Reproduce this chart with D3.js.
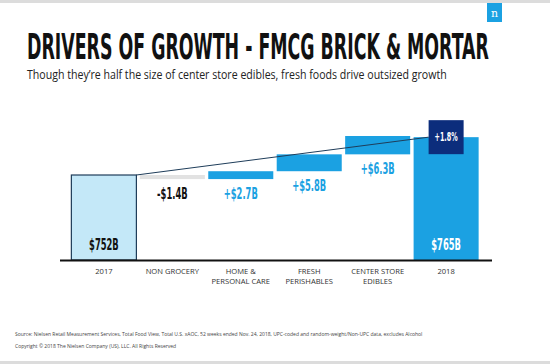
<!DOCTYPE html>
<html>
<head>
<meta charset="utf-8">
<script src="https://cdn.jsdelivr.net/npm/d3@7"></script>
<style>
  body { margin: 0; background: #fff; }
  svg { display: block; }
  .cond { font-family: "DejaVu Sans Condensed", "Liberation Sans", sans-serif; font-weight: bold; }
  .body { font-family: "Open Sans", "Noto Sans", sans-serif; }
</style>
</head>
<body>
<div id="chart"></div>
<script>
// Data
var categories = ["2017", "NON GROCERY", "HOME &|PERSONAL CARE", "FRESH|PERISHABLES", "CENTER STORE|EDIBLES", "2018"];
var startValue = 752;
var deltas = [-1.4, 2.7, 5.8, 6.3];
var endValue = 765;
var valueLabels = ["$752B", "-$1.4B", "+$2.7B", "+$5.8B", "+$6.3B", "$765B"];
var growthLabel = "+1.8%";

var width = 550, height = 364;
var SQUEEZE = 0.62; // narrow the bold labels horizontally

var svg = d3.select("#chart")
    .append("svg")
        .attr("width", width)
        .attr("height", height);

/* Squeeze a text horizontally so it spans a given width */
function fitWidth(sel, x0, y0, w){
    var natural = sel.node().getComputedTextLength();
    sel.attr("transform", "translate(" + x0 + "," + y0 + ") scale(" + (w / natural) + ",1)");
}

/* Frame strips */
svg.append("rect").attr("x", 0).attr("y", 0).attr("width", width).attr("height", 3).attr("fill", "#dcdcdc");
svg.append("rect").attr("x", 0).attr("y", 361).attr("width", width).attr("height", 3).attr("fill", "#dcdcdc");

/* Logo */
svg.append("rect").attr("x", 487).attr("y", 3).attr("width", 15).attr("height", 19).attr("fill", "#1ba1e2");
svg.append("text").attr("x", 494.5).attr("y", 17).attr("text-anchor", "middle")
    .attr("fill", "#fff").attr("font-family", "DejaVu Serif, serif").attr("font-size", 11).text("n");

/* Titles */
var title = svg.append("text").attr("class", "cond")
    .attr("font-size", 36)
    .attr("fill", "#111")
    .text("DRIVERS OF GROWTH - FMCG BRICK & MORTAR");
fitWidth(title, 27, 58.5, 462);

var subtitle = svg.append("text").attr("class", "body")
    .attr("font-size", 11.8)
    .attr("fill", "#222")
    .text("Though they\u2019re half the size of center store edibles, fresh foods drive outsized growth");
fitWidth(subtitle, 27, 78.5, 420);

/* Waterfall steps */
var steps = [];
var running = startValue;
steps.push({ cat: categories[0], lo: 722.8, hi: startValue, kind: "start" });
deltas.forEach(function(d, i){
    var next = running + d;
    steps.push({ cat: categories[i + 1], lo: Math.min(running, next), hi: Math.max(running, next), kind: d < 0 ? "neg" : "pos" });
    running = next;
});
steps.push({ cat: categories[5], lo: 722.8, hi: endValue, kind: "end" });

/* Scales */
var x = d3.scaleBand()
    .domain(categories)
    .range([70, 480])
    .paddingInner(0.05)
    .paddingOuter(0.02);
var y = d3.scaleLinear()
    .domain([722.8, running])
    .range([260, 136]);

var fills = { start: "#c4e8f8", neg: "#e2e2e2", pos: "#1ba1e2", end: "#1ba1e2" };

/* Bars */
svg.selectAll(".bar")
    .data(steps)
    .enter()
    .append("rect")
        .attr("class", "bar")
        .attr("x", function(d){ return x(d.cat); })
        .attr("y", function(d){ return y(d.hi); })
        .attr("width", x.bandwidth())
        .attr("height", function(d){ return y(d.lo) - y(d.hi); })
        .attr("fill", function(d){ return fills[d.kind]; })
        .attr("stroke", function(d){ return d.kind === "start" ? "#1f3d5a" : "none"; })
        .attr("stroke-width", 1.2);

/* Growth box */
var xEnd = x(categories[5]) + x.bandwidth() / 2;
svg.append("rect")
    .attr("x", xEnd - 17.5).attr("y", y(endValue) - 17)
    .attr("width", 35).attr("height", 34)
    .attr("fill", "#0c2d7c");

/* Connector line */
svg.append("line")
    .attr("x1", x(categories[0]) + x.bandwidth()).attr("y1", y(startValue))
    .attr("x2", xEnd - 17.5).attr("y2", y(endValue))
    .attr("stroke", "#1f3d5a").attr("stroke-width", 1);

svg.append("text").attr("class", "cond")
    .attr("transform", "translate(" + xEnd + "," + (y(endValue) + 4) + ") scale(" + SQUEEZE + ",1)")
    .attr("text-anchor", "middle").attr("font-size", 11.5)
    .attr("fill", "#fff")
    .text(growthLabel);

/* Value labels */
svg.selectAll(".val")
    .data(steps)
    .enter()
    .append("text")
        .attr("class", "val cond")
        .attr("transform", function(d){
            var cx = x(d.cat) + x.bandwidth() / 2;
            var cy = (d.kind === "start" || d.kind === "end") ? 250 : y(d.lo) + 20;
            return "translate(" + cx + "," + cy + ") scale(" + SQUEEZE + ",1)";
        })
        .attr("text-anchor", "middle")
        .attr("font-size", 15)
        .attr("fill", function(d){ return d.kind === "pos" ? "#1ba1e2" : d.kind === "end" ? "#fff" : "#111"; })
        .text(function(d, i){ return valueLabels[i]; });

/* Axis */
svg.append("line")
    .attr("x1", 60).attr("x2", 492)
    .attr("y1", 260.5).attr("y2", 260.5)
    .attr("stroke", "#111").attr("stroke-width", 1.8);

var xAxis = d3.axisBottom(x).tickSize(0).tickPadding(0).tickFormat("");
var axisG = svg.append("g")
    .attr("transform", "translate(0,261)")
    .call(xAxis);
axisG.select(".domain").remove();
axisG.selectAll(".tick").each(function(d){
    var lines = d.split("|");
    var t = d3.select(this).append("text")
        .attr("class", "body")
        .attr("text-anchor", "middle")
        .attr("font-size", 7.6)
        .attr("fill", "#333");
    lines.forEach(function(l, i){
        t.append("tspan").attr("x", 0).attr("y", 12.5 + i * 10.5).text(l);
    });
});

/* Footer */
svg.append("text").attr("class", "body")
    .attr("x", 15).attr("y", 335.5).attr("font-size", 5.0).attr("fill", "#444")
    .text("Source: Nielsen Retail Measurement Services, Total Food View, Total U.S. xAOC, 52 weeks ended Nov. 24, 2018, UPC-coded and random-weight/Non-UPC data, excludes Alcohol");
svg.append("text").attr("class", "body")
    .attr("x", 15).attr("y", 348).attr("font-size", 5.0).attr("fill", "#444")
    .text("Copyright \u00a9 2018 The Nielsen Company (US), LLC. All Rights Reserved");
</script>
</body>
</html>
